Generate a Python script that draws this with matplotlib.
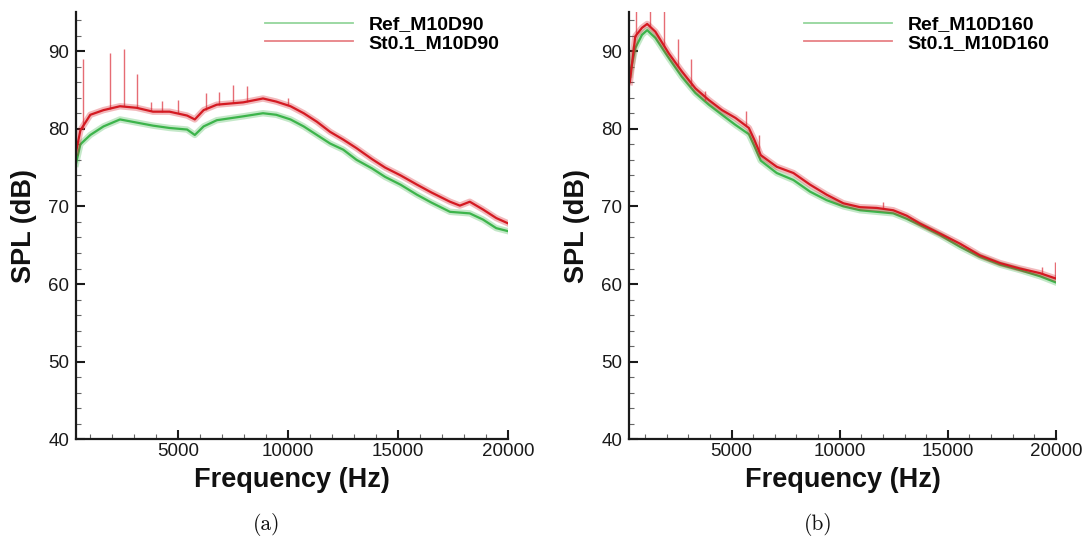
import matplotlib
matplotlib.use("Agg")
import matplotlib.pyplot as plt
from matplotlib.lines import Line2D
from matplotlib.ticker import MultipleLocator, FixedLocator

plt.rcParams["font.family"] = ["Liberation Sans", "DejaVu Sans"]

# ---- (a) M10D90 -------------------------------------------------------
freq_a = [350, 550, 1000, 1600, 2350, 3100, 3850, 4600, 5400, 5750, 6150,
          6750, 7950, 8850, 9450, 10100, 10700, 11300, 11900, 12500, 13100,
          13800, 14400, 15100, 15850, 16500, 17350, 17800, 18250, 18850,
          19450, 20000]
ref_a = [75.5, 78.0, 79.2, 80.3, 81.2, 80.8, 80.4, 80.1, 79.9, 79.2, 80.3,
         81.1, 81.6, 82.0, 81.8, 81.2, 80.3, 79.2, 78.1, 77.3, 76.0,
         74.9, 73.8, 72.8, 71.5, 70.5, 69.3, 69.2, 69.1, 68.3,
         67.2, 66.8]
st_a = [77.0, 79.8, 81.8, 82.4, 82.9, 82.7, 82.2, 82.2, 81.7, 81.2, 82.4,
        83.1, 83.4, 83.9, 83.5, 82.9, 82.0, 80.9, 79.6, 78.6, 77.5,
        76.1, 75.0, 74.0, 72.8, 71.8, 70.6, 70.1, 70.6, 69.6,
        68.5, 67.8]
# tonal peaks in the St0.1 spectrum: frequency, foot level, peak level
peak_f_a = [655, 1900, 2520, 3130, 3740, 4260, 5000, 6260, 6870, 7500, 8100, 9970]
peak_lo_a = [80.0, 82.5, 82.9, 82.7, 82.3, 82.2, 82.0, 82.4, 83.1, 83.3, 83.4, 83.0]
peak_hi_a = [89.0, 89.7, 90.3, 87.0, 83.5, 83.6, 83.7, 84.6, 84.7, 85.7, 85.5, 84.0]

# ---- (b) M10D160 ------------------------------------------------------
freq_b = [300, 550, 860, 1100, 1480, 2100, 2700, 3330, 3950, 4560, 5180,
          5800, 6050, 6350, 7090, 7860, 8630, 9400, 10170, 10940, 11710, 12480,
          13100, 13710, 14640, 15560, 16480, 17410, 18330, 19260, 20000]
ref_b = [87.0, 90.4, 92.1, 92.7, 91.7, 89.1, 86.7, 84.6, 83.1, 81.8, 80.5,
         79.3, 77.8, 75.9, 74.3, 73.4, 71.9, 70.8, 70.0, 69.5, 69.3, 69.1,
         68.4, 67.6, 66.3, 64.8, 63.5, 62.5, 61.8, 61.0, 60.2]
st_b = [86.0, 91.9, 93.0, 93.5, 92.5, 89.7, 87.4, 85.2, 83.7, 82.4, 81.4,
        80.1, 78.6, 76.6, 75.1, 74.3, 72.8, 71.5, 70.4, 69.9, 69.8, 69.5,
        68.8, 67.8, 66.5, 65.2, 63.7, 62.7, 62.0, 61.4, 60.7]
peak_f_b = [590, 1250, 1870, 2510, 3130, 3760, 5670, 6290, 12000, 19370, 19950]
peak_lo_b = [91.8, 93.2, 90.5, 88.0, 85.5, 83.6, 80.5, 77.0, 69.7, 61.3, 60.8]
peak_hi_b = [96.0, 96.0, 96.0, 91.6, 89.0, 84.9, 82.3, 79.2, 70.6, 62.2, 62.9]

x_ticks = [5000, 10000, 15000, 20000]
y_ticks = [40, 50, 60, 70, 80, 90]

GREEN = "#3cb44b"
RED = "#d41a22"
SPIKE = "#e2525c"

W, H = 1092, 541
fig = plt.figure(figsize=(W / 100, H / 100), dpi=100)


def px_axes(left, right, top, bottom):
    return fig.add_axes([left / W, 1 - bottom / H, (right - left) / W, (bottom - top) / H])


def spectrum(ax, f, ref, st, pf, plo, phi, xmin):
    ax.plot(f, ref, color=GREEN, lw=4.6, alpha=0.3, solid_joinstyle="round")
    ax.plot(f, ref, color=GREEN, lw=1.6)
    ax.vlines(pf, plo, phi, color=SPIKE, lw=1.0, alpha=0.85)
    ax.plot(f, st, color=RED, lw=4.6, alpha=0.3, solid_joinstyle="round")
    ax.plot(f, st, color=RED, lw=1.6)

    ax.set_xlim(xmin, 20000)
    ax.set_ylim(40, 95)
    for s in ("top", "right"):
        ax.spines[s].set_visible(False)
    for s in ("left", "bottom"):
        ax.spines[s].set_linewidth(1.6)
        ax.spines[s].set_color("#1a1a1a")
    ax.xaxis.set_major_locator(FixedLocator(x_ticks))
    ax.xaxis.set_minor_locator(MultipleLocator(1000))
    ax.yaxis.set_major_locator(FixedLocator(y_ticks))
    ax.yaxis.set_minor_locator(MultipleLocator(2))
    ax.tick_params(which="major", direction="in", length=6.5, width=1.5,
                   labelsize=13.5, color="#1a1a1a", labelcolor="#1a1a1a")
    ax.tick_params(which="minor", direction="in", length=3.4, width=0.8, color="#666666")
    ax.tick_params(axis="x", which="major", pad=3)
    ax.tick_params(axis="y", which="major", pad=5)

    return [Line2D([], [], color=GREEN, lw=1.3, alpha=0.55),
            Line2D([], [], color=RED, lw=1.3, alpha=0.55)]


ax_a = px_axes(76, 508.3, 12.3, 439.3)
h = spectrum(ax_a, freq_a, ref_a, st_a, peak_f_a, peak_lo_a, peak_hi_a, 350)
ax_a.legend(h, ["Ref_M10D90", "St0.1_M10D90"], loc="upper left",
            bbox_to_anchor=(0.438, 0.992), frameon=False, borderpad=0, borderaxespad=0,
            handlelength=4.5, handletextpad=0.8, labelspacing=0.05,
            prop={"size": 14, "weight": "bold"})

ax_b = px_axes(629, 1056, 12.3, 439.3)
h = spectrum(ax_b, freq_b, ref_b, st_b, peak_f_b, peak_lo_b, peak_hi_b, 260)
ax_b.legend(h, ["Ref_M10D160", "St0.1_M10D160"], loc="upper left",
            bbox_to_anchor=(0.411, 0.992), frameon=False, borderpad=0, borderaxespad=0,
            handlelength=4.5, handletextpad=0.8, labelspacing=0.05,
            prop={"size": 14, "weight": "bold"})

# axis titles and panel captions
for cx in (292.0, 842.5):
    fig.text(cx / W, 1 - 480 / H, "Frequency (Hz)", ha="center", va="center",
             fontsize=19.5, fontweight="bold", color="#111111")
for cx in (24.0, 577.0):
    fig.text(cx / W, 1 - 225.5 / H, "SPL (dB)", ha="center", va="center",
             rotation=90, fontsize=19.5, fontweight="bold", color="#111111")
for cx, lab in ((267.0, "(a)"), (818.0, "(b)")):
    fig.text(cx / W, 1 - 525 / H, lab, ha="center", va="center",
             fontsize=15.5, family="cmr10", color="#111111")

fig.savefig("out.png", dpi=100)
